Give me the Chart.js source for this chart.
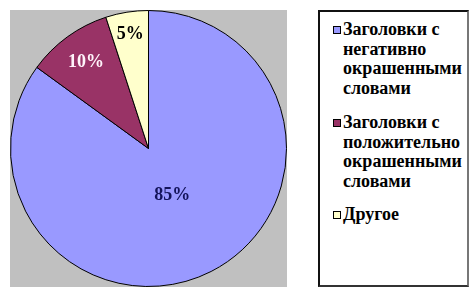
<!DOCTYPE html>
<html>
<head>
<meta charset="utf-8">
<script src="https://cdn.jsdelivr.net/npm/chart.js@4/dist/chart.umd.min.js"></script>
<style>
    body { margin: 0; background: #fff; width: 474px; height: 296px; position: relative; overflow: hidden; }
    #plot { position: absolute; left: 10px; top: 10px; width: 277px; height: 277px; background: #c0c0c0; }
    #legend {
        position: absolute; left: 318px; top: 10px; width: 151px; height: 277px;
        box-sizing: border-box; border: 2px solid #111; border-right-color: #777; border-bottom-color: #333;
        background: #fff; font: bold 18px "Liberation Serif", "Times New Roman", serif; color: #000;
    }
    .item { position: absolute; left: 13px; }
    .box { position: absolute; left: 0; top: 6px; width: 8px; height: 8px; box-sizing: border-box; border: 1px solid #000; }
    .txt { position: absolute; left: 10px; top: 0; line-height: 19.7px; white-space: nowrap; }
</style>
</head>
<body>
<div id="plot"><canvas id="pieChart"></canvas></div>
<div id="legend"></div>
<script>
const labels = [
    ['Заголовки с', 'негативно', 'окрашенными', 'словами'],
    ['Заголовки с', 'положительно', 'окрашенными', 'словами'],
    ['Другое']
];
const values = [85, 10, 5];
const colors = ['#9999ff', '#993366', '#ffffcc'];
const labelColors = ['#14145a', '#fff4fa', '#000000'];
const labelRadius = [0.38, 0.77, 0.84];

// подписи процентов внутри секторов
const pctLabels = {
    id: 'pctLabels',
    afterDatasetsDraw(chart) {
        const ctx = chart.ctx;
        const total = values.reduce((a, b) => a + b, 0);
        chart.getDatasetMeta(0).data.forEach((arc, i) => {
            const mid = (arc.startAngle + arc.endAngle) / 2;
            const r = arc.outerRadius * labelRadius[i];
            const x = arc.x + Math.cos(mid) * r;
            const y = arc.y + Math.sin(mid) * r;
            ctx.save();
            ctx.font = 'bold 18px "Liberation Serif", serif';
            ctx.fillStyle = labelColors[i];
            ctx.textAlign = 'center';
            ctx.textBaseline = 'middle';
            ctx.fillText(Math.round(values[i] / total * 100) + '%', x, y);
            ctx.restore();
        });
    }
};

const ctx = document.getElementById('pieChart').getContext('2d');
const pieChart = new Chart(ctx, {
    type: 'pie',
    data: {
        labels: labels.map(l => l.join(' ')),
        datasets: [{
            data: values,
            backgroundColor: colors,
            borderColor: '#000',
            borderWidth: 1
        }]
    },
    options: {
        responsive: true,
        maintainAspectRatio: false,
        animation: false,
        layout: { padding: 0 },
        plugins: {
            legend: { display: false },
            tooltip: { enabled: false }
        }
    },
    plugins: [pctLabels]
});

// легенда справа
const legendDiv = document.getElementById('legend');
const tops = [8, 101, 193];
labels.forEach((lines, i) => {
    let html = `<div class="item" style="top:${tops[i]}px">
                    <div class="box" style="background:${colors[i]}"></div>
                    <div class="txt">${lines.join('<br>')}</div>
                </div>`;
    legendDiv.insertAdjacentHTML('beforeend', html);
});
</script>
</body>
</html>
